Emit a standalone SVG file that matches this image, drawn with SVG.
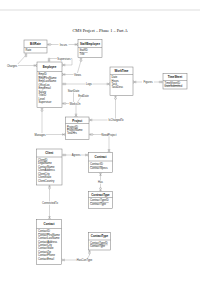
<svg xmlns="http://www.w3.org/2000/svg" width="200" height="300" viewBox="0 0 200 300">
<style>
.box{fill:#fff;stroke:#777;stroke-width:0.5}
.sep{stroke:#777;stroke-width:0.5}
.h{font-family:"Liberation Sans",Arial,sans-serif;font-size:2.9px;font-weight:bold;text-anchor:middle;fill:#111}
.f{font-family:"Liberation Sans",Arial,sans-serif;font-size:2.7px;fill:#222}
.pk{text-decoration:underline}
.c{fill:none;stroke:#999;stroke-width:0.4}
.m{fill:none;stroke:#777;stroke-width:0.4}
.lb{fill:#fff}
.l{font-family:"Liberation Sans",Arial,sans-serif;font-size:2.7px;text-anchor:middle;fill:#333}
.t{font-family:"Liberation Serif","Times New Roman",serif;font-size:4.3px;text-anchor:middle;fill:#111}
</style>
<defs>
<marker id="a" markerUnits="userSpaceOnUse" viewBox="-5 -2 5 4" refX="0" refY="0" markerWidth="5" markerHeight="4" orient="auto-start-reverse" overflow="visible">
<path class="m" d="M-1.2,-1.3V1.3"/>
<circle cx="-3" cy="0" r="0.9" fill="#fff" stroke="#777" stroke-width="0.4"/>
</marker>
<marker id="b" markerUnits="userSpaceOnUse" viewBox="-5 -2 5 4" refX="0" refY="0" markerWidth="5" markerHeight="4" orient="auto-start-reverse" overflow="visible">
<path class="m" d="M0,-1.3L-2.2,0L0,1.3M-2.8,-1.3V1.3"/>
</marker>
</defs>
<rect width="200" height="300" fill="#fff"/>
<line x1="0" y1="10" x2="200" y2="10" stroke="#ddd" stroke-width="1.2"/>
<text class="t" x="100" y="31.5">CMS Project – Phase 1 – Part A</text>

<g id="connectors">
<path class="c" d="M47,44.5H78" marker-start="url(#a)" marker-end="url(#b)"/>
<path class="c" d="M26,53V55L16.5,65.5H37" marker-start="url(#a)" marker-end="url(#b)"/>
<path class="c" d="M49,62V58.5H72V65H62" marker-start="url(#a)" marker-end="url(#b)"/>
<path class="c" d="M81,57.5V60.5L77,74.5H62" marker-start="url(#a)" marker-end="url(#b)"/>
<path class="c" d="M62,84H110" marker-start="url(#a)" marker-end="url(#b)"/>
<path class="c" d="M133,82H163" marker-start="url(#b)" marker-end="url(#a)"/>
<path class="c" d="M62,103.5H76V117" marker-start="url(#a)" marker-end="url(#b)"/>
<path class="c" d="M73.5,92.5V102M80.5,97.5L77.5,102.2"/>
<path class="c" d="M89,120H115.5V95.5" marker-start="url(#b)" marker-end="url(#a)"/>
<path class="c" d="M42,107.5V134.5H65.5" marker-start="url(#a)" marker-end="url(#b)"/>
<path class="c" d="M89,134.5H109V152.5" marker-start="url(#a)" marker-end="url(#b)"/>
<path class="c" d="M62,155H88.5" marker-start="url(#a)" marker-end="url(#b)"/>
<path class="c" d="M100.5,172.5V191.5" marker-start="url(#b)" marker-end="url(#a)"/>
<path class="c" d="M49.5,185V219.5" marker-start="url(#a)" marker-end="url(#b)"/>
<path class="c" d="M61.5,260H86.5L89.5,255V250" marker-start="url(#b)" marker-end="url(#a)"/>
<rect class="lb" x="58.5" y="43" width="10" height="3.2"/><text class="l" x="63.5" y="45.5">Incurs</text>
<rect class="lb" x="6" y="64" width="12" height="3.2"/><text class="l" x="12" y="66.5">Charges</text>
<rect class="lb" x="57" y="57" width="14" height="3.2"/><text class="l" x="64" y="59.5">Supervises</text>
<rect class="lb" x="73.5" y="73" width="8" height="3.2"/><text class="l" x="77.5" y="75.5">Views</text>
<rect class="lb" x="85.5" y="82.5" width="7" height="3.2"/><text class="l" x="89" y="85">Logs</text>
<rect class="lb" x="142" y="80.5" width="12" height="3.2"/><text class="l" x="148" y="83">Figures</text>
<rect class="lb" x="69" y="102" width="12" height="3.2"/><text class="l" x="75" y="104.5">WorksOn</text>
<text class="l" x="73.5" y="92">StartDate</text>
<text class="l" x="83.5" y="97">EndDate</text>
<rect class="lb" x="107.5" y="118.6" width="17" height="3.2"/><text class="l" x="116" y="121">IsChargedTo</text>
<rect class="lb" x="34" y="133" width="12" height="3.2"/><text class="l" x="40" y="135.5">Manages</text>
<rect class="lb" x="102" y="133" width="14" height="3.2"/><text class="l" x="109" y="135.5">NeedProject</text>
<rect class="lb" x="71.5" y="153.5" width="9" height="3.2"/><text class="l" x="76" y="156">Agrees</text>
<rect class="lb" x="98" y="180.5" width="5" height="3.2"/><text class="l" x="100.5" y="183">Has</text>
<rect class="lb" x="42" y="201.5" width="16" height="3.2"/><text class="l" x="50" y="204">ConnectedTo</text>
<rect class="lb" x="77" y="258.5" width="15" height="3.2"/><text class="l" x="84.5" y="261">HasConType</text>
</g>

<g id="BillRate">
<rect class="box" x="24" y="40" width="23" height="13"/>
<line class="sep" x1="24" y1="47.5" x2="47" y2="47.5"/>
<text class="h" x="35.5" y="45">BillRate</text>
<text class="f" x="25.5" y="51">Rate</text>
</g>
<g id="StaffEmployee">
<rect class="box" x="78" y="39.5" width="24" height="18"/>
<line class="sep" x1="78" y1="47.5" x2="102" y2="47.5"/>
<text class="h" x="90" y="44.8">StaffEmployee</text>
<text class="f pk" x="79.5" y="51.2">StaffID</text>
<text class="f" x="79.5" y="54.6">Title</text>
</g>
<g id="Employee">
<rect class="box" x="37" y="62" width="25" height="45.5"/>
<line class="sep" x1="37" y1="71.5" x2="62" y2="71.5"/>
<text class="h" x="49.5" y="67.8">Employee</text>
<text class="f pk" x="38.5" y="75.3">EmpID</text>
<text class="f" x="38.5" y="78.8">EmpFirstName</text>
<text class="f" x="38.5" y="82.3">EmpLastName</text>
<text class="f" x="38.5" y="85.8">OfficeLoc</text>
<text class="f" x="38.5" y="89.3">EmpEmail</text>
<text class="f" x="38.5" y="92.8">Salary</text>
<text class="f" x="38.5" y="96.3">TitleID</text>
<text class="f" x="38.5" y="99.8">Level</text>
<text class="f" x="38.5" y="103.3">Supervisor</text>
</g>
<g id="WorkTime">
<rect class="box" x="110" y="67" width="23" height="28.5"/>
<line class="sep" x1="110" y1="74.5" x2="133" y2="74.5"/>
<text class="h" x="121.5" y="72">WorkTime</text>
<text class="f" x="111.5" y="78.2">Date</text>
<text class="f" x="111.5" y="81.6">Hours</text>
<text class="f" x="111.5" y="85">Task</text>
<text class="f" x="111.5" y="88.4">TaskDesc</text>
</g>
<g id="TimeSheet">
<rect class="box" x="163" y="73.5" width="24" height="15.5"/>
<line class="sep" x1="163" y1="80.5" x2="187" y2="80.5"/>
<text class="h" x="175" y="78.3">TimeSheet</text>
<text class="f pk" x="164.5" y="84">TimeSheetID</text>
<text class="f" x="164.5" y="87.2">DateSubmitted</text>
</g>
<g id="Project">
<rect class="box" x="65.5" y="117" width="23.5" height="22.5"/>
<line class="sep" x1="65.5" y1="123.5" x2="89" y2="123.5"/>
<text class="h" x="77.25" y="121.5">Project</text>
<text class="f pk" x="67" y="127.5">ProjectID</text>
<text class="f" x="67" y="130.9">ProjectName</text>
<text class="f" x="67" y="134.3">TotalHrs</text>
</g>
<g id="Client">
<rect class="box" x="36.5" y="149" width="25.5" height="36"/>
<line class="sep" x1="36.5" y1="157" x2="62" y2="157"/>
<text class="h" x="49.25" y="154">Client</text>
<text class="f pk" x="38" y="160.8">ClientID</text>
<text class="f" x="38" y="164.3">LegalName</text>
<text class="f" x="38" y="167.8">ContactName</text>
<text class="f" x="38" y="171.3">ClientAddress</text>
<text class="f" x="38" y="174.8">ClientCity</text>
<text class="f" x="38" y="178.3">ClientState</text>
<text class="f" x="38" y="181.8">ClientCountry</text>
</g>
<g id="Contract">
<rect class="box" x="88.5" y="152.5" width="24" height="20"/>
<line class="sep" x1="88.5" y1="161" x2="112.5" y2="161"/>
<text class="h" x="100.5" y="158">Contract</text>
<text class="f pk" x="90" y="165">ContractID</text>
<text class="f" x="90" y="168.5">ContractSpecs</text>
</g>
<g id="ContractType">
<rect class="box" x="88.5" y="191.5" width="24" height="17"/>
<line class="sep" x1="88.5" y1="197.5" x2="112.5" y2="197.5"/>
<text class="h" x="100.5" y="195.6">ContractType</text>
<text class="f pk" x="90" y="201.3">ContractTypeID</text>
<text class="f" x="90" y="204.8">ContractType</text>
</g>
<g id="Contact">
<rect class="box" x="36.5" y="219.5" width="25" height="45"/>
<line class="sep" x1="36.5" y1="228.5" x2="61.5" y2="228.5"/>
<text class="h" x="49" y="225">Contact</text>
<text class="f pk" x="38" y="232.3">ContactID</text>
<text class="f" x="38" y="235.7">ContactFirstName</text>
<text class="f" x="38" y="239.1">ContactLastName</text>
<text class="f" x="38" y="242.5">ContactAddress</text>
<text class="f" x="38" y="245.9">ContactCity</text>
<text class="f" x="38" y="249.3">ContactState</text>
<text class="f" x="38" y="252.7">ContactZip</text>
<text class="f" x="38" y="256.1">ContactPhone</text>
<text class="f" x="38" y="259.5">ContactEmail</text>
</g>
<g id="ContactType">
<rect class="box" x="88.5" y="232.5" width="22" height="17.5"/>
<line class="sep" x1="88.5" y1="240" x2="110.5" y2="240"/>
<text class="h" x="99.5" y="237.3">ContactType</text>
<text class="f pk" x="90" y="243.8">ContactTypeID</text>
<text class="f" x="90" y="247.3">ContactType</text>
</g>
</svg>
